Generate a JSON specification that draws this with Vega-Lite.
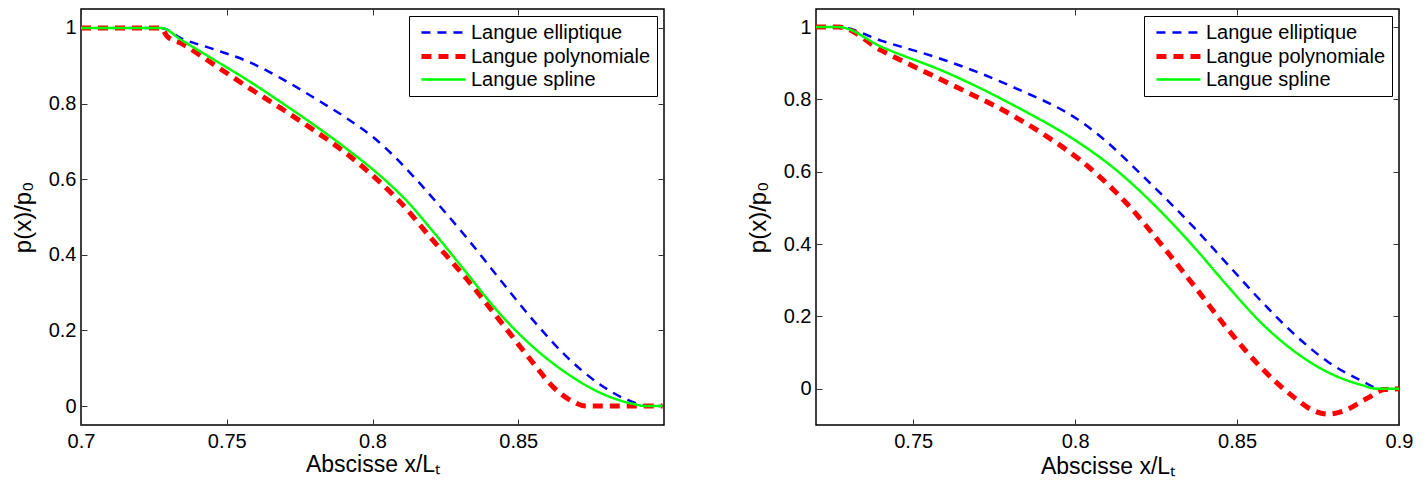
{
  "$schema": "https://vega.github.io/schema/vega-lite/v6.json",
  "padding": {"left": 10, "top": 7, "right": 5, "bottom": 5},
  "background": "white",
  "config": {
    "font": "Liberation Sans",
    "view": {"stroke": "#000", "strokeWidth": 1.5},
    "axis": {"grid": false, "domain": false, "labelFont": "Liberation Sans", "labelFontSize": 20, "labelColor": "#000", "titleFont": "Liberation Sans", "titleFontSize": 23, "titleFontWeight": "normal", "titleColor": "#000", "tickColor": "#333", "tickSize": -6, "tickWidth": 1, "labelFlush": false, "labelOverlap": false, "format": "~g"},
    "legend": {"labelFont": "Liberation Sans", "labelFontSize": 20, "labelColor": "#000", "labelLimit": 400, "symbolType": "M-2.45,0H2.45", "symbolSize": 324, "symbolOffset": 17, "labelOffset": 16, "padding": 6, "rowPadding": 2, "strokeColor": "#000", "fillColor": "#fff", "cornerRadius": 0, "orient": "top-right", "offset": 7},
    "line": {"interpolate": "monotone"}
  },
  "datasets": {
    "gauche": [
      {"serie": "Langue elliptique", "x": 0.7, "p": 1},
      {"serie": "Langue elliptique", "x": 0.7275, "p": 1},
      {"serie": "Langue elliptique", "x": 0.7344, "p": 0.9725},
      {"serie": "Langue elliptique", "x": 0.7458, "p": 0.943},
      {"serie": "Langue elliptique", "x": 0.7573, "p": 0.911},
      {"serie": "Langue elliptique", "x": 0.7688, "p": 0.866},
      {"serie": "Langue elliptique", "x": 0.7802, "p": 0.814},
      {"serie": "Langue elliptique", "x": 0.791, "p": 0.762},
      {"serie": "Langue elliptique", "x": 0.8012, "p": 0.705},
      {"serie": "Langue elliptique", "x": 0.8149, "p": 0.6},
      {"serie": "Langue elliptique", "x": 0.8235, "p": 0.525},
      {"serie": "Langue elliptique", "x": 0.8321, "p": 0.447},
      {"serie": "Langue elliptique", "x": 0.8435, "p": 0.337},
      {"serie": "Langue elliptique", "x": 0.855, "p": 0.228},
      {"serie": "Langue elliptique", "x": 0.8664, "p": 0.132},
      {"serie": "Langue elliptique", "x": 0.8779, "p": 0.058},
      {"serie": "Langue elliptique", "x": 0.887, "p": 0.018},
      {"serie": "Langue elliptique", "x": 0.895, "p": 0},
      {"serie": "Langue elliptique", "x": 0.8995, "p": 0},
      {"serie": "Langue polynomiale", "x": 0.7, "p": 1},
      {"serie": "Langue polynomiale", "x": 0.7275, "p": 1},
      {"serie": "Langue polynomiale", "x": 0.7295, "p": 0.978},
      {"serie": "Langue polynomiale", "x": 0.7344, "p": 0.959},
      {"serie": "Langue polynomiale", "x": 0.7458, "p": 0.902},
      {"serie": "Langue polynomiale", "x": 0.7573, "p": 0.843},
      {"serie": "Langue polynomiale", "x": 0.7687, "p": 0.787},
      {"serie": "Langue polynomiale", "x": 0.7802, "p": 0.728},
      {"serie": "Langue polynomiale", "x": 0.7917, "p": 0.664},
      {"serie": "Langue polynomiale", "x": 0.802, "p": 0.596},
      {"serie": "Langue polynomiale", "x": 0.8092, "p": 0.542},
      {"serie": "Langue polynomiale", "x": 0.8203, "p": 0.442},
      {"serie": "Langue polynomiale", "x": 0.8321, "p": 0.338},
      {"serie": "Langue polynomiale", "x": 0.8435, "p": 0.228},
      {"serie": "Langue polynomiale", "x": 0.855, "p": 0.115},
      {"serie": "Langue polynomiale", "x": 0.8618, "p": 0.052},
      {"serie": "Langue polynomiale", "x": 0.8687, "p": 0.012},
      {"serie": "Langue polynomiale", "x": 0.8733, "p": 0},
      {"serie": "Langue polynomiale", "x": 0.8995, "p": 0},
      {"serie": "Langue spline", "x": 0.7, "p": 1},
      {"serie": "Langue spline", "x": 0.7275, "p": 1},
      {"serie": "Langue spline", "x": 0.7344, "p": 0.968},
      {"serie": "Langue spline", "x": 0.7458, "p": 0.915},
      {"serie": "Langue spline", "x": 0.7573, "p": 0.861},
      {"serie": "Langue spline", "x": 0.7687, "p": 0.803},
      {"serie": "Langue spline", "x": 0.7802, "p": 0.742},
      {"serie": "Langue spline", "x": 0.7917, "p": 0.677},
      {"serie": "Langue spline", "x": 0.8031, "p": 0.606},
      {"serie": "Langue spline", "x": 0.8117, "p": 0.543},
      {"serie": "Langue spline", "x": 0.8203, "p": 0.466},
      {"serie": "Langue spline", "x": 0.8321, "p": 0.354},
      {"serie": "Langue spline", "x": 0.8435, "p": 0.246},
      {"serie": "Langue spline", "x": 0.855, "p": 0.157},
      {"serie": "Langue spline", "x": 0.8664, "p": 0.088},
      {"serie": "Langue spline", "x": 0.8779, "p": 0.036},
      {"serie": "Langue spline", "x": 0.8893, "p": 0.006},
      {"serie": "Langue spline", "x": 0.894, "p": 0},
      {"serie": "Langue spline", "x": 0.8995, "p": 0}
    ],
    "droite": [
      {"serie": "Langue elliptique", "x": 0.72, "p": 1},
      {"serie": "Langue elliptique", "x": 0.727, "p": 1},
      {"serie": "Langue elliptique", "x": 0.7403, "p": 0.962},
      {"serie": "Langue elliptique", "x": 0.7609, "p": 0.905},
      {"serie": "Langue elliptique", "x": 0.7814, "p": 0.832},
      {"serie": "Langue elliptique", "x": 0.8019, "p": 0.738},
      {"serie": "Langue elliptique", "x": 0.8092, "p": 0.687},
      {"serie": "Langue elliptique", "x": 0.8215, "p": 0.583},
      {"serie": "Langue elliptique", "x": 0.8369, "p": 0.444},
      {"serie": "Langue elliptique", "x": 0.8472, "p": 0.343},
      {"serie": "Langue elliptique", "x": 0.8575, "p": 0.242},
      {"serie": "Langue elliptique", "x": 0.8678, "p": 0.150},
      {"serie": "Langue elliptique", "x": 0.878, "p": 0.075},
      {"serie": "Langue elliptique", "x": 0.8883, "p": 0.023},
      {"serie": "Langue elliptique", "x": 0.8944, "p": 0},
      {"serie": "Langue elliptique", "x": 0.9, "p": 0},
      {"serie": "Langue polynomiale", "x": 0.72, "p": 1},
      {"serie": "Langue polynomiale", "x": 0.727, "p": 1},
      {"serie": "Langue polynomiale", "x": 0.7403, "p": 0.935},
      {"serie": "Langue polynomiale", "x": 0.7609, "p": 0.845},
      {"serie": "Langue polynomiale", "x": 0.7814, "p": 0.752},
      {"serie": "Langue polynomiale", "x": 0.7917, "p": 0.695},
      {"serie": "Langue polynomiale", "x": 0.8019, "p": 0.63},
      {"serie": "Langue polynomiale", "x": 0.8122, "p": 0.547},
      {"serie": "Langue polynomiale", "x": 0.8164, "p": 0.508},
      {"serie": "Langue polynomiale", "x": 0.8267, "p": 0.398},
      {"serie": "Langue polynomiale", "x": 0.8369, "p": 0.283},
      {"serie": "Langue polynomiale", "x": 0.8472, "p": 0.164},
      {"serie": "Langue polynomiale", "x": 0.8575, "p": 0.058},
      {"serie": "Langue polynomiale", "x": 0.8678, "p": -0.025},
      {"serie": "Langue polynomiale", "x": 0.8735, "p": -0.06},
      {"serie": "Langue polynomiale", "x": 0.878, "p": -0.07},
      {"serie": "Langue polynomiale", "x": 0.8832, "p": -0.06},
      {"serie": "Langue polynomiale", "x": 0.8904, "p": -0.025},
      {"serie": "Langue polynomiale", "x": 0.8955, "p": -0.002},
      {"serie": "Langue polynomiale", "x": 0.9, "p": 0},
      {"serie": "Langue spline", "x": 0.72, "p": 1},
      {"serie": "Langue spline", "x": 0.727, "p": 1},
      {"serie": "Langue spline", "x": 0.7403, "p": 0.945},
      {"serie": "Langue spline", "x": 0.7609, "p": 0.872},
      {"serie": "Langue spline", "x": 0.7814, "p": 0.782},
      {"serie": "Langue spline", "x": 0.8019, "p": 0.676},
      {"serie": "Langue spline", "x": 0.8113, "p": 0.615},
      {"serie": "Langue spline", "x": 0.8267, "p": 0.488},
      {"serie": "Langue spline", "x": 0.8369, "p": 0.39},
      {"serie": "Langue spline", "x": 0.8472, "p": 0.283},
      {"serie": "Langue spline", "x": 0.8575, "p": 0.182},
      {"serie": "Langue spline", "x": 0.8678, "p": 0.103},
      {"serie": "Langue spline", "x": 0.878, "p": 0.046},
      {"serie": "Langue spline", "x": 0.8883, "p": 0.011},
      {"serie": "Langue spline", "x": 0.8934, "p": 0},
      {"serie": "Langue spline", "x": 0.9, "p": 0}
    ]
  },
  "bounds": "flush",
  "spacing": 152,
  "hconcat": [
    {
      "width": 583,
      "height": 416,
      "data": {"name": "gauche"},
      "layer": [
        {
          "mark": {"type": "line"},
          "encoding": {
            "x": {"field": "x", "type": "quantitative", "scale": {"domain": [0.7, 0.9], "nice": false, "zero": false},
                  "axis": {"orient": "bottom", "values": [0.7, 0.75, 0.8, 0.85], "labelPadding": 12, "title": "Abscisse x/Lₜ", "titleY": 46, "titleBaseline": "alphabetic"}},
            "y": {"field": "p", "type": "quantitative", "scale": {"domain": [-0.05, 1.05], "nice": false, "zero": false},
                  "axis": {"orient": "left", "values": [0, 0.2, 0.4, 0.6, 0.8, 1], "labelPadding": 11, "title": "p(x)/p₀", "titleFontSize": 24, "titleX": -51, "titleBaseline": "alphabetic"}},
            "color": {"field": "serie", "type": "nominal", "scale": {"domain": ["Langue elliptique", "Langue polynomiale", "Langue spline"], "range": ["#0000ff", "#ff0000", "#00ff00"]}, "legend": {"title": null}},
            "strokeDash": {"field": "serie", "type": "nominal", "scale": {"domain": ["Langue elliptique", "Langue polynomiale", "Langue spline"], "range": [[9, 7], [10, 7], [1, 0]]}},
            "strokeWidth": {"field": "serie", "type": "nominal", "scale": {"type": "ordinal", "domain": ["Langue elliptique", "Langue polynomiale", "Langue spline"], "range": [2.5, 5, 2.5]}}
          }
        },
        {
          "mark": {"type": "point", "opacity": 0},
          "encoding": {
            "x": {"field": "x", "type": "quantitative", "axis": {"orient": "top", "values": [0.7, 0.75, 0.8, 0.85], "labels": false, "title": null}},
            "y": {"field": "p", "type": "quantitative", "axis": {"orient": "right", "values": [0, 0.2, 0.4, 0.6, 0.8, 1], "labels": false, "title": null}}
          }
        }
      ],
      "resolve": {"axis": {"x": "independent", "y": "independent"}}
    },
    {
      "width": 583,
      "height": 416,
      "data": {"name": "droite"},
      "layer": [
        {
          "mark": {"type": "line"},
          "encoding": {
            "x": {"field": "x", "type": "quantitative", "scale": {"domain": [0.72, 0.9], "nice": false, "zero": false},
                  "axis": {"orient": "bottom", "values": [0.75, 0.8, 0.85, 0.9], "labelPadding": 12, "title": "Abscisse x/Lₜ", "titleY": 48, "titleBaseline": "alphabetic"}},
            "y": {"field": "p", "type": "quantitative", "scale": {"domain": [-0.1, 1.05], "nice": false, "zero": false},
                  "axis": {"orient": "left", "values": [0, 0.2, 0.4, 0.6, 0.8, 1], "labelPadding": 11, "title": "p(x)/p₀", "titleFontSize": 24, "titleX": -51, "titleBaseline": "alphabetic"}},
            "color": {"field": "serie", "type": "nominal", "scale": {"domain": ["Langue elliptique", "Langue polynomiale", "Langue spline"], "range": ["#0000ff", "#ff0000", "#00ff00"]}, "legend": {"title": null}},
            "strokeDash": {"field": "serie", "type": "nominal", "scale": {"domain": ["Langue elliptique", "Langue polynomiale", "Langue spline"], "range": [[9, 7], [10, 7], [1, 0]]}},
            "strokeWidth": {"field": "serie", "type": "nominal", "scale": {"type": "ordinal", "domain": ["Langue elliptique", "Langue polynomiale", "Langue spline"], "range": [2.5, 5, 2.5]}}
          }
        },
        {
          "mark": {"type": "point", "opacity": 0},
          "encoding": {
            "x": {"field": "x", "type": "quantitative", "axis": {"orient": "top", "values": [0.75, 0.8, 0.85, 0.9], "labels": false, "title": null}},
            "y": {"field": "p", "type": "quantitative", "axis": {"orient": "right", "values": [0, 0.2, 0.4, 0.6, 0.8, 1], "labels": false, "title": null}}
          }
        }
      ],
      "resolve": {"axis": {"x": "independent", "y": "independent"}}
    }
  ],
  "resolve": {
    "scale": {"color": "independent", "strokeDash": "independent", "strokeWidth": "independent"},
    "legend": {"color": "independent", "strokeDash": "independent", "strokeWidth": "independent"}
  }
}
